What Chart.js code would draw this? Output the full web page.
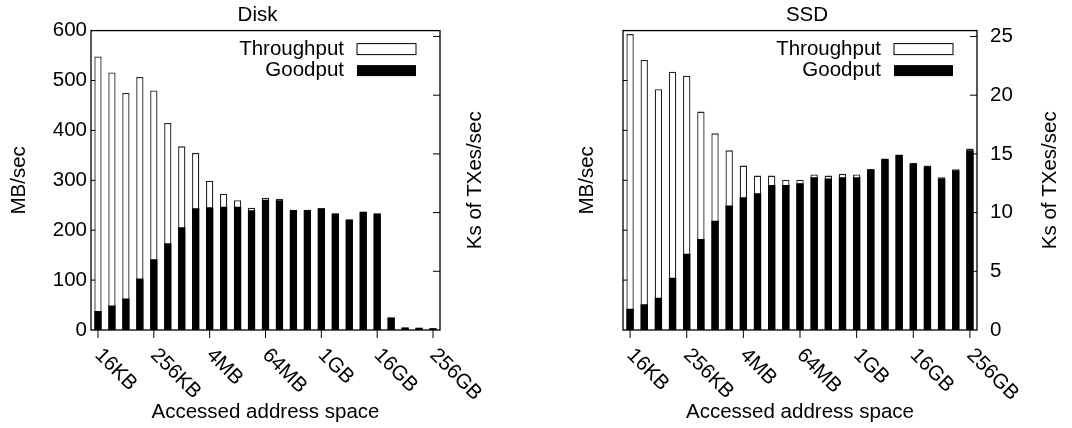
<!DOCTYPE html>
<html>
<head>
<meta charset="utf-8">
<script src="https://cdn.jsdelivr.net/npm/chart.js@4.4.0/dist/chart.umd.min.js"></script>
<style>
body { margin: 0; background: #fff; width: 1072px; height: 428px; position: relative; overflow: hidden; }
canvas { position: absolute; top: 0; }
#disk { left: 0; }
#ssd { left: 554px; }
</style>
</head>
<body>
<canvas id="disk" width="515" height="428"></canvas>
<canvas id="ssd" width="506" height="428"></canvas>
<script>
let sizes = ["16KB", "32KB", "64KB", "128KB", "256KB", "512KB", "1MB", "2MB", "4MB", "8MB",
    "16MB", "32MB", "64MB", "128MB", "256MB", "512MB", "1GB", "2GB", "4GB", "8GB",
    "16GB", "32GB", "64GB", "128GB", "256GB"];
let tickLabels = ["16KB", "256KB", "4MB", "64MB", "1GB", "16GB", "256GB"];
let mbTicks = [0, 100, 200, 300, 400, 500, 600];
let ktxTicks = [0, 5, 10, 15, 20, 25];

// Disk, MB/sec
let diskThroughput = [548, 516, 475, 507, 480, 415, 368, 355, 299, 273, 260, 245, 265, 263, 241, 241, 244, 234, 222, 237, 234, 25, 5, 4.5, 3.5];
let diskGoodput = [38, 49, 63, 103, 142, 174, 206, 244, 246, 247, 247, 240, 261, 260, 240, 240, 244, 233, 221, 237, 233, 25, 5, 4.5, 3.5];

// SSD, Ks of TXes/sec
let ssdThroughput = [25.2, 23.0, 20.5, 22.0, 21.65, 18.6, 16.75, 15.3, 14.0, 13.15, 13.15, 12.8, 12.8, 13.25, 13.15, 13.3, 13.25, 13.7, 14.6, 14.95, 14.25, 14.0, 13.0, 13.7, 15.45];
let ssdGoodput = [1.8, 2.2, 2.75, 4.45, 6.5, 7.75, 9.3, 10.6, 11.3, 11.65, 12.35, 12.35, 12.5, 13.0, 12.9, 13.0, 13.0, 13.7, 14.55, 14.9, 14.15, 13.9, 12.9, 13.6, 15.3];

Chart.defaults.font.family = "'Liberation Sans', Arial, sans-serif";
Chart.defaults.font.size = 20.5;
Chart.defaults.color = '#000';

const FONT = "20.5px 'Liberation Sans', Arial, sans-serif";

// gnuplot style: box, inward ticks, slanted x labels, legend inside the plot
const gnuplotLook = {
    id: 'gnuplotLook',
    beforeDatasetsDraw(chart) {
        const {ctx, chartArea: a, scales} = chart;
        ctx.save();
        ctx.strokeStyle = '#000';
        ctx.lineWidth = 1;
        ctx.beginPath();
        scales.y.ticks.forEach(t => {
            const py = scales.y.getPixelForValue(t.value);
            if (py > a.top + 1 && py < a.bottom - 1) { ctx.moveTo(a.left, py); ctx.lineTo(a.left + 7, py); }
        });
        scales.y2.ticks.forEach(t => {
            const py = scales.y2.getPixelForValue(t.value);
            if (py > a.top + 1 && py < a.bottom - 1) { ctx.moveTo(a.right, py); ctx.lineTo(a.right - 7, py); }
        });
        ctx.stroke();
        ctx.restore();
    },
    afterDatasetsDraw(chart, args, opts) {
        const {ctx, chartArea: a, scales} = chart;
        ctx.save();
        ctx.strokeStyle = '#000';
        ctx.lineWidth = 1.3;
        ctx.strokeRect(a.left, a.top, a.right - a.left, a.bottom - a.top);

        // x ticks (outward) and labels
        ctx.lineWidth = 1;
        ctx.font = FONT;
        ctx.fillStyle = '#000';
        sizes.forEach((s, i) => {
            if (!tickLabels.includes(s)) return;
            const px = scales.x.getPixelForValue(i);
            ctx.beginPath();
            ctx.moveTo(px, a.bottom);
            ctx.lineTo(px, a.bottom + 8);
            ctx.stroke();
            ctx.save();
            ctx.translate(px, a.bottom + 22);
            ctx.rotate(Math.PI / 4);
            ctx.textAlign = 'left';
            ctx.textBaseline = 'middle';
            ctx.fillText(s, 0, 0);
            ctx.restore();
        });

        // legend
        const ds = chart.data.datasets;
        ctx.textAlign = 'right';
        ctx.textBaseline = 'middle';
        ctx.fillText(ds[0].label, a.right - 96, a.top + 19);
        ctx.fillText(ds[1].label, a.right - 96, a.top + 40);
        ctx.fillStyle = '#fff';
        ctx.fillRect(a.right - 83, a.top + 13, 59, 11);
        ctx.strokeRect(a.right - 83, a.top + 13, 59, 11);
        ctx.fillStyle = '#000';
        ctx.fillRect(a.right - 83, a.top + 34.5, 59, 11);

        // right axis title, reading bottom to top
        ctx.save();
        ctx.translate(opts.rightTitleX, (a.top + a.bottom) / 2);
        ctx.rotate(-Math.PI / 2);
        ctx.textAlign = 'center';
        ctx.fillText(opts.rightTitle, 0, 0);
        ctx.restore();
        ctx.restore();
    }
};

function fixedTicks(values) {
    return scale => { scale.ticks = values.map(v => ({ value: v })); };
}

function makeChart(id, title, throughput, goodput, axisId, opts) {
    const barStyle = { grouped: false, barPercentage: 0.52, categoryPercentage: 1, yAxisID: axisId };
    return new Chart(document.getElementById(id), {
        type: 'bar',
        data: {
            labels: sizes,
            datasets: [
                Object.assign({ label: 'Throughput', data: throughput, order: 2,
                    backgroundColor: '#fff', borderColor: '#222', borderWidth: 1.3 }, barStyle),
                Object.assign({ label: 'Goodput', data: goodput, order: 1,
                    backgroundColor: '#000', borderWidth: 0 }, barStyle)
            ]
        },
        options: {
            responsive: false,
            animation: false,
            events: [],
            layout: { padding: 0 },
            plugins: {
                legend: { display: false },
                tooltip: { enabled: false },
                title: {
                    display: true,
                    text: title,
                    color: '#000',
                    font: { size: 20.5, weight: 'normal' },
                    padding: { top: 3, bottom: 3 }
                },
                gnuplotLook: { rightTitle: 'Ks of TXes/sec', rightTitleX: opts.rightTitleX }
            },
            scales: {
                x: {
                    type: 'category',
                    offset: true,
                    grid: { display: false },
                    border: { display: false },
                    ticks: { display: false },
                    title: { display: true, text: 'Accessed address space', padding: { top: 0, bottom: 3 } },
                    afterFit: s => { s.height = 98; }
                },
                y: {
                    position: 'left',
                    min: 0,
                    max: 600,
                    grid: { display: false, drawTicks: false },
                    border: { display: false },
                    ticks: { display: opts.leftLabels, padding: 4 },
                    afterBuildTicks: fixedTicks(mbTicks),
                    title: { display: true, text: 'MB/sec', padding: { top: opts.leftTitlePad, bottom: 0 } },
                    afterFit: s => { s.width = opts.leftWidth; }
                },
                y2: {
                    position: 'right',
                    min: 0,
                    max: 25.5,
                    grid: { display: false, drawTicks: false },
                    border: { display: false },
                    ticks: { display: opts.rightLabels, padding: 13 },
                    afterBuildTicks: fixedTicks(ktxTicks),
                    afterFit: s => { s.width = opts.rightWidth; }
                }
            }
        },
        plugins: [gnuplotLook]
    });
}

makeChart('disk', 'Disk', diskThroughput, diskGoodput, 'y',
    { leftLabels: true, rightLabels: false, leftWidth: 91, rightWidth: 75, leftTitlePad: 7, rightTitleX: 475 });
makeChart('ssd', 'SSD', ssdThroughput, ssdGoodput, 'y2',
    { leftLabels: false, rightLabels: true, leftWidth: 69, rightWidth: 83, leftTitlePad: 21, rightTitleX: 496 });
</script>
</body>
</html>
